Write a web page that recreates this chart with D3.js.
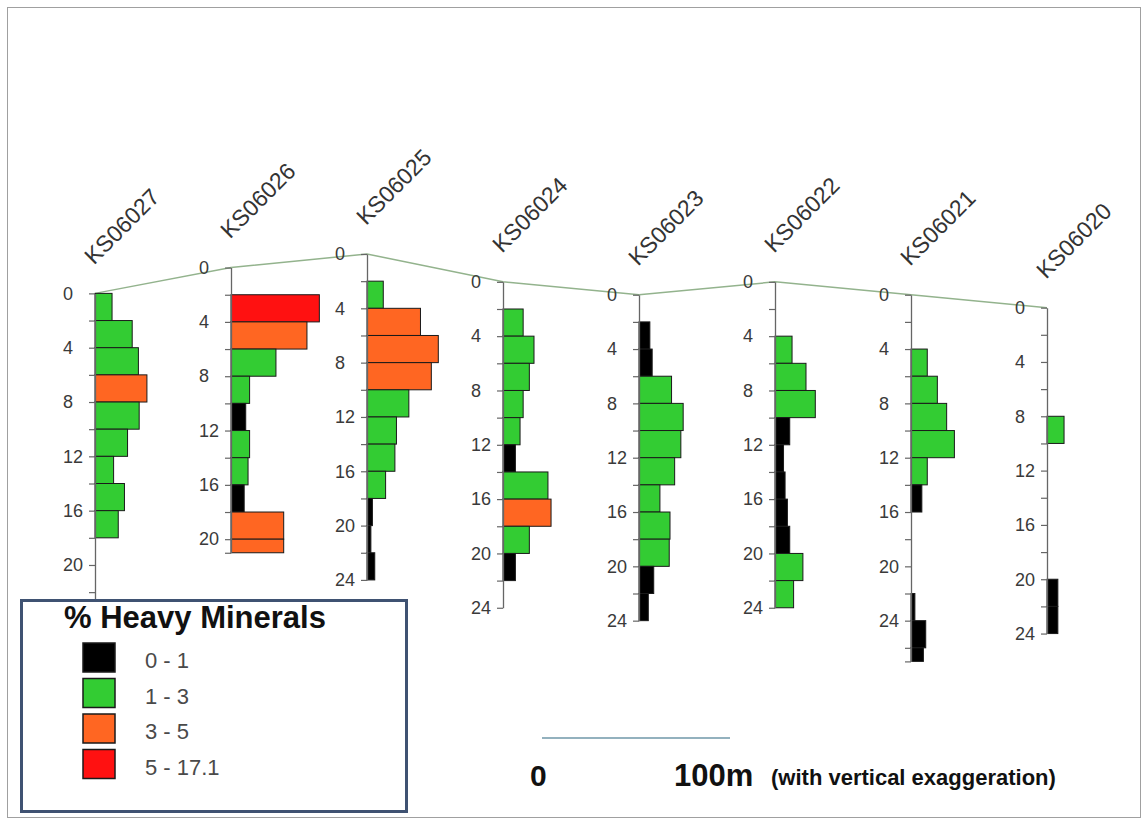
<!DOCTYPE html>
<html>
<head>
<meta charset="utf-8">
<script src="https://cdnjs.cloudflare.com/ajax/libs/d3/7.8.5/d3.min.js"></script>
<style>
  body { margin: 0; background: #fff; }
  svg { display: block; }
</style>
</head>
<body>
<svg id="chart" width="1148" height="821"></svg>
<script>
// drill holes, left to right
var holes = ["KS06027", "KS06026", "KS06025", "KS06024", "KS06023", "KS06022", "KS06021", "KS06020"];
// collar height below the highest collar (m)
var collarDrop = [2.9, 1.0, 0, 2.05, 3.0, 2.05, 3.0, 3.95];
// total depth of each hole (m) - first one runs on under the legend
var holeDepth = [23, 21, 24, 24, 24, 24, 27, 24];

// % heavy minerals per 2 m interval from surface, null = no sample
var ks06027 = [1.1, 2.4, 2.8, 3.35, 2.85, 2.1, 1.2, 1.9, 1.5];
var ks06026 = [null, 5.7, 4.9, 2.9, 1.2, 0.95, 1.2, 1.1, 0.85, 3.4, 3.4];
var ks06025 = [null, 1.05, 3.45, 4.6, 4.15, 2.7, 1.9, 1.8, 1.2, 0.35, 0.25, 0.5];
var ks06024 = [null, 1.3, 2.0, 1.7, 1.3, 1.1, 0.8, 2.9, 3.1, 1.7, 0.8];
var ks06023 = [null, 0.7, 0.85, 2.1, 2.85, 2.7, 2.3, 1.35, 2.0, 1.95, 0.95, 0.6];
var ks06022 = [null, null, 1.1, 2.0, 2.6, 0.95, 0.55, 0.65, 0.8, 0.95, 1.8, 1.2];
var ks06021 = [null, null, 1.05, 1.7, 2.3, 2.8, 1.05, 0.7, null, null, null, 0.25, 0.95, 0.8];
var ks06020 = [null, null, null, null, 1.1, null, null, null, null, null, 0.7, 0.7];
var heavyMin = [ks06027, ks06026, ks06025, ks06024, ks06023, ks06022, ks06021, ks06020];

var step = 2;

// legend classes
var classBreaks = [1, 3, 5];
var classLabels = ["0 - 1", "1 - 3", "3 - 5", "5 - 17.1"];
var classColors = ["#000000", "#33cc33", "#ff6622", "#ff1111"];

var svg = d3.select("#chart");

svg.append("rect")
    .attr("width", 1148).attr("height", 821)
    .attr("fill", "#fff");

// thin frame round the picture
svg.append("rect")
    .attr("x", 7.5).attr("y", 7.5)
    .attr("width", 1133).attr("height", 810)
    .attr("fill", "none")
    .attr("stroke", "#a0a0a0")
    .attr("stroke-width", 1);

var color = d3.scaleThreshold()
    .domain(classBreaks)
    .range(classColors);

// holes along the section
var x = d3.scalePoint()
    .domain(holes)
    .range([95, 1047]);

// one vertical scale (m) for every hole, measured from the highest collar
var y = d3.scaleLinear()
    .domain([0, 30])
    .range([254, 661.4]);

// bar length = % heavy minerals
var w = d3.scaleLinear()
    .domain([0, 6])
    .range([0, 93]);

// ground profile joining the collars
var profile = d3.line()
    .x(function(d) { return x(d); })
    .y(function(d, i) { return y(collarDrop[i]); });

svg.append("path")
    .datum(holes)
    .attr("d", profile)
    .attr("fill", "none")
    .attr("stroke", "#93b38d")
    .attr("stroke-width", 1.5);

holes.forEach(function(h, i) {
    var top = collarDrop[i],
        depth = holeDepth[i];

    var yi = d3.scaleLinear()
        .domain([0, depth])
        .range([y(top), y(top + depth)]);

    var g = svg.append("g")
        .attr("class", "hole")
        .attr("transform", "translate(" + x(h) + ",0)");

    var intervals = [];
    heavyMin[i].forEach(function(v, j) {
        if (v === null) return;
        intervals.push({from: j * step, to: Math.min((j + 1) * step, depth), value: v});
    });

    g.selectAll("rect.bar")
        .data(intervals)
        .enter().append("rect")
        .attr("class", "bar")
        .attr("x", 0)
        .attr("y", function(d) { return yi(d.from); })
        .attr("width", function(d) { return w(d.value); })
        .attr("height", function(d) { return yi(d.to) - yi(d.from); })
        .attr("fill", function(d) { return color(d.value); })
        .attr("stroke", "#1a1a1a")
        .attr("stroke-width", 1);

    var ticks = d3.range(0, depth + 0.01, step);
    if (depth % step) ticks.push(depth);

    var axis = d3.axisLeft(yi)
        .tickValues(ticks)
        .tickSize(6)
        .tickSizeOuter(0)
        .tickFormat(function(d) { return d % 4 === 0 ? d : ""; });

    var ax = g.append("g").call(axis);
    ax.select(".domain").attr("stroke", "#666").attr("stroke-width", 1.3);
    ax.selectAll(".tick line").attr("stroke", "#666").attr("stroke-width", 1.2);
    // labels sit left-aligned a fixed distance from the axis
    ax.selectAll(".tick text")
        .attr("x", -32)
        .attr("text-anchor", "start")
        .attr("fill", "#3a3a3a")
        .style("font-family", "'Liberation Sans', Arial, sans-serif")
        .style("font-size", "18px");

    // hole name, slanted
    g.append("text")
        .attr("transform", "translate(-1," + (y(top) - 28) + ") rotate(-45)")
        .attr("fill", "#333")
        .style("font-family", "'Liberation Sans', Arial, sans-serif")
        .style("font-size", "23px")
        .text(h);
});

// legend
var legend = svg.append("g").attr("class", "legend");

legend.append("rect")
    .attr("x", 21.5).attr("y", 600.5)
    .attr("width", 385).attr("height", 211)
    .attr("fill", "#fff")
    .attr("stroke", "#3f5272")
    .attr("stroke-width", 3);

legend.append("text")
    .attr("x", 64).attr("y", 628)
    .attr("fill", "#111")
    .style("font-family", "'Liberation Sans', Arial, sans-serif")
    .style("font-weight", "bold")
    .style("font-size", "31px")
    .text("% Heavy Minerals");

var item = legend.selectAll("g.item")
    .data(classLabels)
    .enter().append("g")
    .attr("class", "item")
    .attr("transform", function(d, i) { return "translate(0," + (i * 35.5) + ")"; });

item.append("rect")
    .attr("x", 83).attr("y", 643)
    .attr("width", 32).attr("height", 29)
    .attr("fill", function(d, i) { return classColors[i]; })
    .attr("stroke", "#1a1a1a")
    .attr("stroke-width", 1.5);

item.append("text")
    .attr("x", 145).attr("y", 668)
    .attr("fill", "#4a4a4a")
    .style("font-family", "'Liberation Sans', Arial, sans-serif")
    .style("font-size", "22px")
    .text(function(d) { return d; });

// horizontal scale bar
var sx = d3.scaleLinear().domain([0, 100]).range([542, 730]);

svg.append("line")
    .attr("x1", sx(0)).attr("x2", sx(100))
    .attr("y1", 738).attr("y2", 738)
    .attr("stroke", "#6f97a8")
    .attr("stroke-width", 1.5);

svg.append("text")
    .attr("x", 530).attr("y", 786)
    .attr("fill", "#111")
    .style("font-family", "'Liberation Sans', Arial, sans-serif")
    .style("font-weight", "bold")
    .style("font-size", "30px")
    .text("0");

svg.append("text")
    .attr("x", 674).attr("y", 786)
    .attr("fill", "#111")
    .style("font-family", "'Liberation Sans', Arial, sans-serif")
    .style("font-weight", "bold")
    .style("font-size", "31px")
    .text("100m");

svg.append("text")
    .attr("x", 771).attr("y", 785)
    .attr("fill", "#111")
    .style("font-family", "'Liberation Sans', Arial, sans-serif")
    .style("font-weight", "bold")
    .style("font-size", "22px")
    .text("(with vertical exaggeration)");
</script>
</body>
</html>
